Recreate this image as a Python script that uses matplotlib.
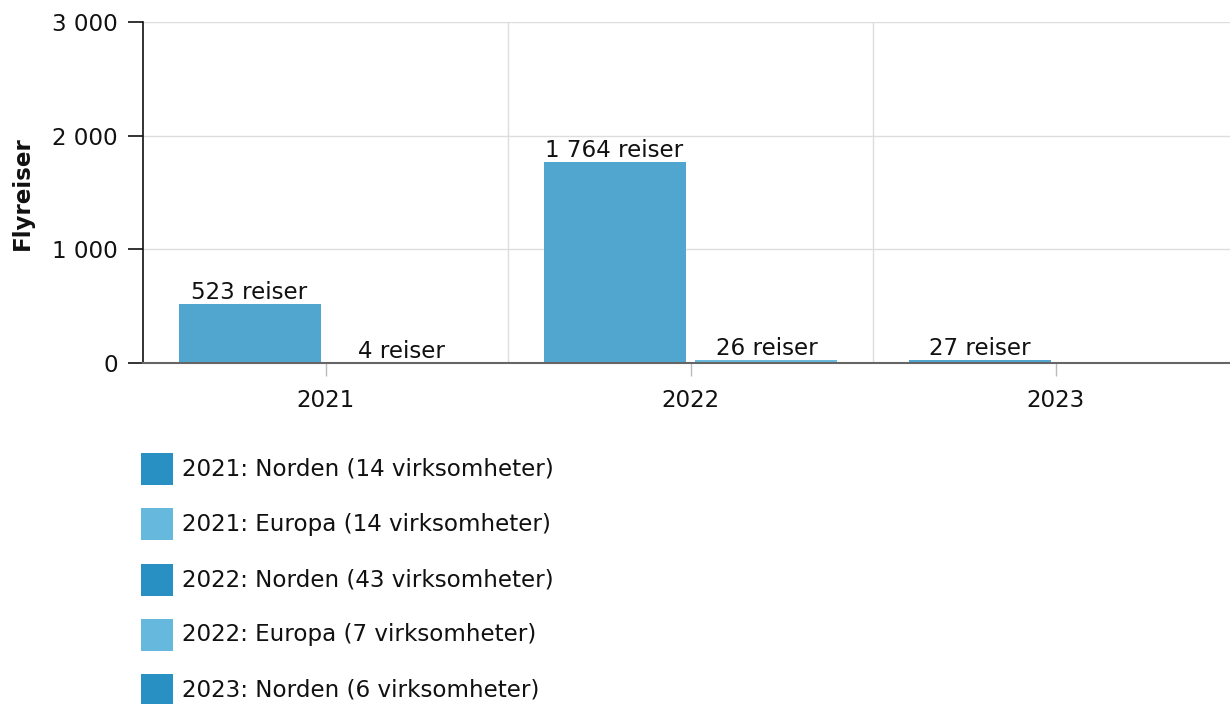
import numpy as np
import matplotlib
matplotlib.use("Agg")
from matplotlib import pyplot as plt
from matplotlib.patches import Rectangle
from matplotlib.ticker import FuncFormatter, FixedLocator

years = ["2021", "2022", "2023"]
norden = [523, 1764, 27]
europa = [4, 26, None]

legend_labels = ["2021: Norden (14 virksomheter)",
                 "2021: Europa (14 virksomheter)",
                 "2022: Norden (43 virksomheter)",
                 "2022: Europa (7 virksomheter)",
                 "2023: Norden (6 virksomheter)"]
legend_colors = ["#2990c4", "#66b8dd", "#2990c4", "#66b8dd", "#2990c4"]

bar_norden = "#50a6ce"
bar_europa = "#6bbade"

plt.rcParams["font.family"] = "DejaVu Sans"
FS = 16.6

W, H = 1230, 704
fig = plt.figure(figsize=(W / 100, H / 100), dpi=100)
ax = fig.add_axes([143 / W, 1 - 363 / H, 1095 / W, 341 / H])

x = np.arange(len(years))
bw = 0.389
off = 0.208

def fmt(v):
    return "{:,}".format(int(v)).replace(",", " ")

for i in x:
    if norden[i] is not None:
        ax.bar(i - off, norden[i], bw, color=bar_norden, zorder=3)
        ax.annotate(fmt(norden[i]) + " reiser", (i - off, norden[i]),
                    xytext=(0, 0), textcoords="offset points",
                    ha="center", va="bottom", fontsize=FS, color="#111111")
    if europa[i] is not None:
        ax.bar(i + off, europa[i], bw, color=bar_europa, zorder=3)
        ax.annotate(fmt(europa[i]) + " reiser", (i + off, europa[i]),
                    xytext=(0, 0), textcoords="offset points",
                    ha="center", va="bottom", fontsize=FS, color="#111111")

ax.set_xlim(-0.5, 2.5)
ax.set_ylim(0, 3000)
ax.set_yticks([0, 1000, 2000, 3000])
ax.yaxis.set_major_formatter(FuncFormatter(lambda v, p: fmt(v)))
ax.set_xticks(x)
ax.set_xticklabels(years)
ax.xaxis.set_minor_locator(FixedLocator([0.5, 1.5]))

ax.grid(axis="y", color="#dddddd", lw=1, zorder=0)
ax.grid(axis="x", which="minor", color="#dddddd", lw=1, zorder=0)

ax.tick_params(axis="y", length=11, width=1.2, color="#111111", pad=7,
               labelsize=FS, labelcolor="#111111")
ax.tick_params(axis="x", which="major", length=9, width=1, color="#bbbbbb",
               pad=10, labelsize=FS, labelcolor="#111111")
ax.tick_params(axis="x", which="minor", length=0)

for s in ["top", "right"]:
    ax.spines[s].set_visible(False)
ax.spines["left"].set_color("#111111")
ax.spines["left"].set_linewidth(1.2)
ax.spines["bottom"].set_color("#666666")
ax.spines["bottom"].set_linewidth(1.5)
ax.spines["bottom"].set_zorder(4)

fig.text(22 / W, 1 - 193 / H, "Flyreiser", rotation=90, fontsize=FS,
         fontweight="bold", ha="center", va="center", color="#111111")

# legend
for k, (lab, col) in enumerate(zip(legend_labels, legend_colors)):
    yc = 469 + k * 55.3
    fig.patches.append(Rectangle((141 / W, 1 - (yc + 16) / H), 32 / W, 32 / H,
                                 transform=fig.transFigure, facecolor=col,
                                 edgecolor="none"))
    fig.text(182 / W, 1 - yc / H, lab, fontsize=FS, ha="left",
             va="center", color="#111111")

fig.savefig("out.png", dpi=100)
